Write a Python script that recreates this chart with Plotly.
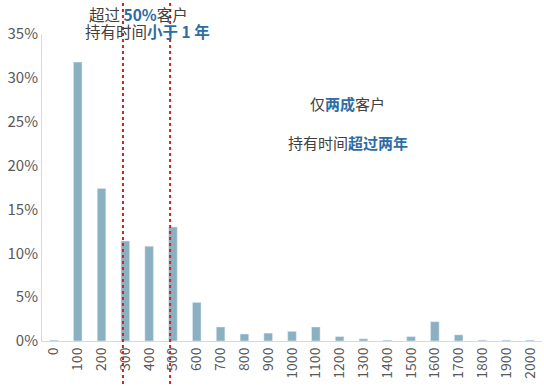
import plotly.graph_objects as go

categories = ["0", "100", "200", "300", "400", "500", "600", "700", "800", "900", "1000",
              "1100", "1200", "1300", "1400", "1500", "1600", "1700", "1800", "1900", "2000"]
shares = [0.1, 31.8, 17.4, 11.4, 10.8, 13.0, 4.4, 1.6, 0.8, 0.9, 1.1,
          1.6, 0.5, 0.25, 0.1, 0.5, 2.2, 0.7, 0.1, 0.1, 0.1]
y_ticks = [0, 5, 10, 15, 20, 25, 30, 35]
y_tick_labels = ["0%", "5%", "10%", "15%", "20%", "25%", "30%", "35%"]
marker_positions = [2.9, 4.88]

BAR = "#8AB0C2"
BLUE = "#2E6DA4"
TXT = "#404040"
FONT = "Noto Sans CJK SC"

fig = go.Figure(go.Bar(x=list(range(len(categories))), y=shares, marker_color=BAR,
                       width=0.36, hoverinfo="skip"))

for xp in marker_positions:
    fig.add_shape(type="line", xref="x", yref="paper", x0=xp, x1=xp, y0=-0.16, y1=1.12,
                  line=dict(color="#D42020", width=2, dash="dot"))

def blue(s):
    return f"<b><span style='color:{BLUE}'>{s}</span></b>"

def note(x, y, text, size):
    fig.add_annotation(x=x, y=y, xref="x", yref="paper", showarrow=False,
                       xanchor="center", yanchor="middle", text=text,
                       font=dict(size=size, color=TXT, family=FONT))

note(3.57, 1.065, "超过 " + blue("50%") + "客户", 15.5)
note(3.93, 1.01, "持有时间" + blue("小于 1 年"), 15.5)
note(12.35, 0.775, "仅" + blue("两成") + "客户", 15)
note(12.37, 0.645, "持有时间" + blue("超过两年"), 15)

fig.update_layout(
    width=544, height=387,
    margin=dict(l=42, r=2, t=34, b=46, autoexpand=False),
    plot_bgcolor="white", paper_bgcolor="white",
    showlegend=False,
    font=dict(family=FONT, color="#595959", size=14),
    xaxis=dict(tickmode="array", tickvals=list(range(len(categories))), ticktext=categories,
               tickangle=-90, range=[-0.5, len(categories) - 0.5], showgrid=False,
               showline=True, linecolor="#D9D9D9", linewidth=1, ticks="",
               automargin=False, tickfont=dict(size=14, color="#595959")),
    yaxis=dict(range=[0, 35], tickmode="array", tickvals=y_ticks, ticktext=y_tick_labels,
               showgrid=False, zeroline=False, showline=True, linecolor="#D9D9D9",
               linewidth=1, ticks="", automargin=False,
               tickfont=dict(size=15, color="#595959")),
)

fig.write_html("out.html", config={"displayModeBar": False},
               post_script="document.body.style.margin='0';document.body.style.overflow='hidden';")
